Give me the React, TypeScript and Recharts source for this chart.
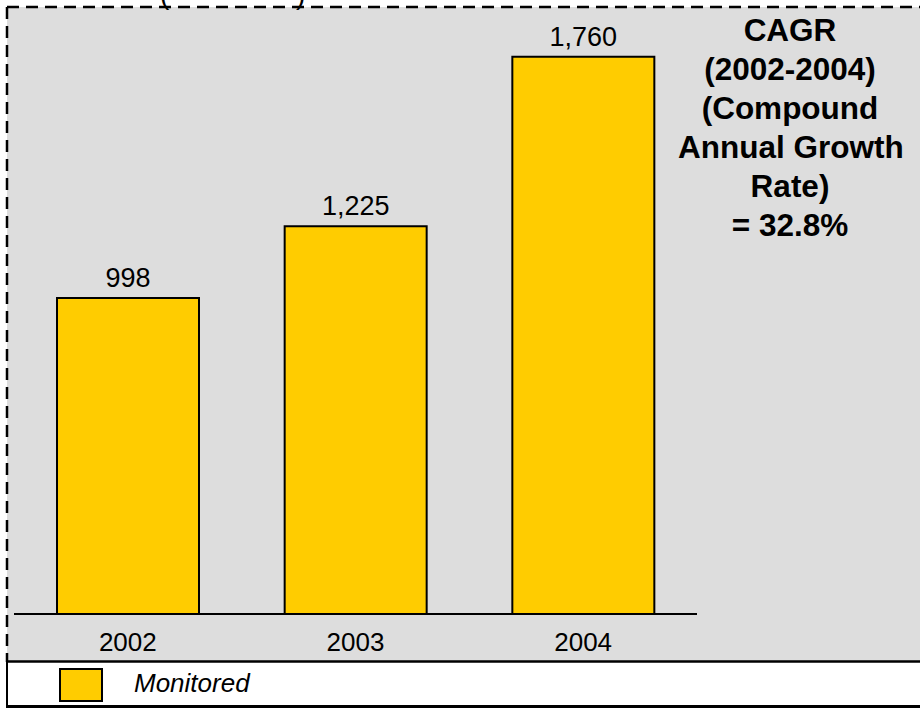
import { BarChart, Bar, XAxis, YAxis, LabelList } from "recharts";

const years = ["2002", "2003", "2004"];
const monitored = [998, 1225, 1760];
const cagrLines = ["CAGR", "(2002-2004)", "(Compound", "Annual Growth", "Rate)", "= 32.8%"];
const legendLabel = "Monitored";

const data = years.map((y, i) => ({ year: y, monitored: monitored[i] }));

const FONT = "'Liberation Sans', Arial, sans-serif";
const YELLOW = "#FFCC00";

function YearTick(props: any) {
  const { x, y, payload } = props;
  return (
    <text x={x} y={y} dy={29} textAnchor="middle" fontSize={26} fill="#000" fontFamily={FONT}>
      {payload.value}
    </text>
  );
}

export default function App() {
  return (
    <div style={{ position: "absolute", left: 0, top: 0, width: 920, height: 710, overflow: "hidden", background: "#fff" }}>
      <svg width={920} height={710} style={{ position: "absolute", left: 0, top: 0 }}>
        <rect x={7} y={7} width={920} height={655} fill="#DDDDDD" />
        <text x={160} y={4} fontSize={28} fontFamily={FONT}>(</text>
        <text x={296} y={4} fontSize={28} fontFamily={FONT}>)</text>
        <line x1={7} y1={7} x2={920} y2={7} stroke="#000" strokeWidth={2.5} strokeDasharray="12 7" />
        <line x1={7} y1={7} x2={7} y2={662} stroke="#000" strokeWidth={2.5} strokeDasharray="12 7" />
        <rect x={7} y={662} width={920} height={44} fill="#fff" />
        <line x1={6} y1={661.5} x2={920} y2={661.5} stroke="#000" strokeWidth={2.5} />
        <line x1={7} y1={662} x2={7} y2={707} stroke="#000" strokeWidth={2} />
        <line x1={6} y1={706.5} x2={920} y2={706.5} stroke="#000" strokeWidth={3} />
      </svg>
      <div style={{ position: "absolute", left: 0, top: 0 }}>
        <BarChart width={920} height={710} data={data} margin={{ top: 8, right: 223, left: 14, bottom: 0 }}>
          <XAxis
            dataKey="year"
            axisLine={{ stroke: "#000", strokeWidth: 2 }}
            tickLine={false}
            tick={<YearTick />}
            height={96}
          />
          <YAxis hide domain={[0, 1914]} />
          <Bar dataKey="monitored" fill={YELLOW} stroke="#000" strokeWidth={2} barSize={142} isAnimationActive={false}>
            <LabelList
              dataKey="monitored"
              position="top"
              offset={11}
              formatter={(v: any) => Number(v).toLocaleString("en-US")}
              style={{ fontSize: 27, fill: "#000", fontFamily: FONT }}
            />
          </Bar>
        </BarChart>
      </div>
      <div
        style={{
          position: "absolute",
          left: 678,
          top: 11,
          width: 224,
          textAlign: "center",
          fontFamily: FONT,
          fontWeight: "bold",
          fontSize: 31.5,
          lineHeight: "39px",
          color: "#000",
          whiteSpace: "nowrap",
        }}
      >
        {cagrLines.map((l) => (
          <div key={l}>{l}</div>
        ))}
      </div>
      <div style={{ position: "absolute", left: 59, top: 668, width: 44, height: 34, background: YELLOW, border: "2px solid #000", boxSizing: "border-box" }} />
      <div style={{ position: "absolute", left: 134, top: 668, lineHeight: "30px", fontFamily: FONT, fontStyle: "italic", fontSize: 26, color: "#000" }}>
        {legendLabel}
      </div>
    </div>
  );
}
